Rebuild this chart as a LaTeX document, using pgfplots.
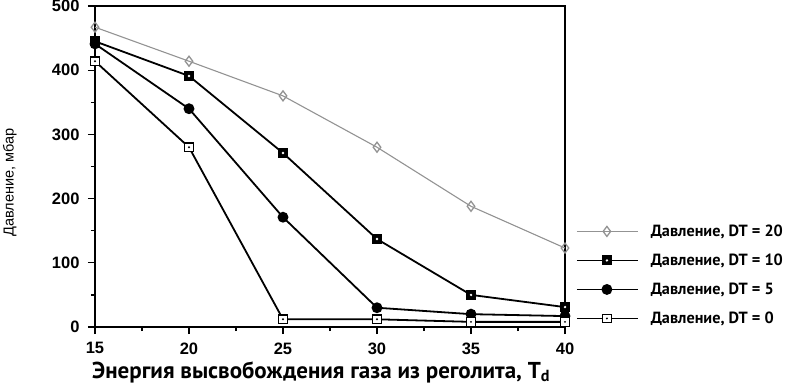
\documentclass[border=0pt]{standalone}
\usepackage{pgfplots}
\pgfplotsset{compat=1.18}
\usepackage{fontspec}
\setmainfont{Liberation Sans}
\newfontfamily\lib{Liberation Sans}
\newfontfamily\pts{PT Sans}

\pgfdeclareplotmark{blacksq}{%
  \pgfpathrectangle{\pgfqpoint{-\pgfplotmarksize}{-\pgfplotmarksize}}{\pgfqpoint{2\pgfplotmarksize}{2\pgfplotmarksize}}%
  \pgfsetfillcolor{black}\pgfusepathqfillstroke
  \pgfpathcircle{\pgfpointorigin}{0.3\pgfplotmarksize}%
  \pgfsetfillcolor{white}\pgfusepathqfill}
\pgfdeclareplotmark{whitesq}{%
  \pgfpathrectangle{\pgfqpoint{-\pgfplotmarksize}{-\pgfplotmarksize}}{\pgfqpoint{2\pgfplotmarksize}{2\pgfplotmarksize}}%
  \pgfsetfillcolor{white}\pgfusepathqfillstroke
  \pgfpathcircle{\pgfpointorigin}{0.25\pgfplotmarksize}%
  \pgfsetfillcolor{black}\pgfusepathqfill}

\begin{document}
\begin{tikzpicture}
\path[use as bounding box] (-95bp,-63bp) rectangle (695bp,327bp);
\begin{axis}[
  at={(0,0)}, anchor=south west,
  scale only axis, width=470bp, height=321bp,
  xmin=15, xmax=40, ymin=0, ymax=500,
  xtick={15,20,...,40}, ytick={0,100,...,500},
  minor x tick num=1, minor y tick num=1,
  xtick pos=bottom, ytick pos=left,
  tick align=outside,
  major tick length=7bp, minor tick length=4bp,
  every tick/.style={black, line width=1.2bp},
  axis line style={line width=1.3bp},
  /pgf/number format/assume math mode=true,
  ticklabel style={font=\fontsize{16.5bp}{18bp}\lib\bfseries},
  xticklabel style={yshift=-5bp},
  yticklabel style={xshift=-5bp},
  xlabel={Энергия высвобождения газа из реголита, T\textsubscript{d}},
  xlabel style={font=\fontsize{23bp}{25bp}\pts\bfseries, at={(axis description cs:-0.0064,-0.14)}, anchor=west, inner sep=0pt},
  ylabel={Давление, мбар},
  ylabel style={font=\fontsize{14.5bp}{16bp}\lib, at={(axis description cs:-0.181,0.45)}, anchor=center, rotate=0},
  legend style={at={(axis description cs:1.023,0.325)}, anchor=north west, draw=none, fill=none,
    font=\fontsize{16.2bp}{18bp}\pts\bfseries, row sep=12bp, inner sep=0pt,
    cells={anchor=west}},
  legend image code/.code={%
    \draw[mark repeat=2, mark phase=2] plot coordinates {(0bp,0bp) (30bp,0bp) (61bp,0bp)};},
  clip=false,
]
\addplot[color=gray!85, line width=1.1bp, mark=diamond, mark size=5bp, mark options={fill=white, line width=1.3bp}]
  coordinates {(15,467) (20,414) (25,360) (30,280) (35,188) (40,123)};
\addlegendentry{\hspace{10bp}Давление, DT = 20}
\addplot[color=black, line width=1.8bp, mark=blacksq, mark size=4.5bp, mark options={line width=1bp}]
  coordinates {(15,445) (20,391) (25,271) (30,137) (35,50) (40,31)};
\addlegendentry{\hspace{10bp}Давление, DT = 10}
\addplot[color=black, line width=1.8bp, mark=*, mark size=4.5bp]
  coordinates {(15,441) (20,340) (25,171) (30,30) (35,20) (40,17)};
\addlegendentry{\hspace{10bp}Давление, DT = 5}
\addplot[color=black, line width=1.8bp, mark=whitesq, mark size=4.3bp, mark options={line width=1.3bp}]
  coordinates {(15,414) (20,280) (25,12) (30,12) (35,8) (40,8)};
\addlegendentry{\hspace{10bp}Давление, DT = 0}
\end{axis}
\end{tikzpicture}
\end{document}
